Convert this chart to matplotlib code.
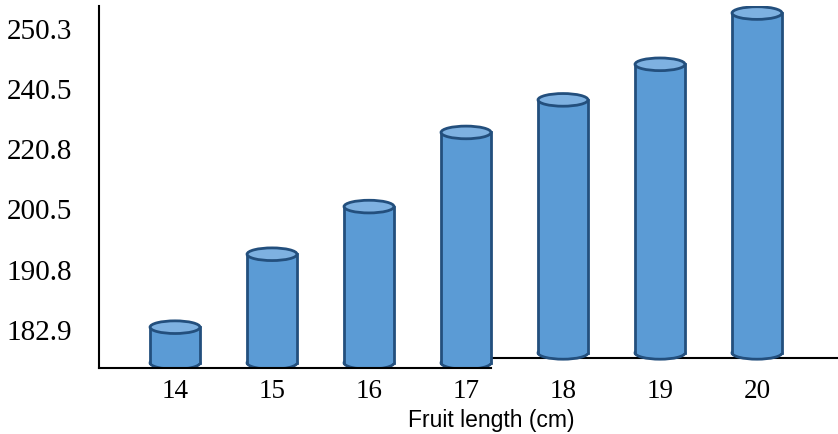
import matplotlib
matplotlib.use("Agg")
import matplotlib.pyplot as plt
from matplotlib.patches import Ellipse, Rectangle

# fruit length categories and bar heights (in y-tick steps)
lengths = ["14", "15", "16", "17", "18", "19", "20"]
bar_tops = [0.03, 1.24, 2.03, 3.26, 3.80, 4.39, 5.24]
bar_bases = [-0.647, -0.647, -0.647, -0.647, -0.481, -0.481, -0.481]
ytick_labels = ["182.9", "190.8", "200.5", "220.8", "240.5", "250.3"]

body_col = "#5b9bd5"
top_col = "#7eb1e1"
edge_col = "#234f7d"
bar_w = 0.515
ell_h = 0.21

fig = plt.figure(figsize=(8.38, 4.35), dpi=100)
ax = fig.add_axes([98.5 / 838, 66 / 435, (838 - 98.5) / 838, (369 - 7) / 435])

x = list(range(len(lengths)))
for xi, top, base in zip(x, bar_tops, bar_bases):
    bot = base + ell_h / 2 - 0.02
    ax.add_patch(Ellipse((xi, bot), bar_w, ell_h, facecolor=body_col,
                         edgecolor=edge_col, lw=2, zorder=2))
    ax.add_patch(Rectangle((xi - bar_w / 2, bot), bar_w, top - bot,
                           facecolor=body_col, edgecolor="none", zorder=3))
    ax.plot([xi - bar_w / 2] * 2, [bot, top], color=edge_col, lw=2, zorder=4)
    ax.plot([xi + bar_w / 2] * 2, [bot, top], color=edge_col, lw=2, zorder=4)
    ax.add_patch(Ellipse((xi, top), bar_w, ell_h, facecolor=top_col,
                         edgecolor=edge_col, lw=2, zorder=5))

xlim = (-0.789, 6.835)
ax.set_xlim(*xlim)
ax.set_ylim(-0.647, 5.357)

# broken baseline: the last three bars stand on a slightly higher line
split = 3 + bar_w / 2
ax.spines["bottom"].set_bounds(xlim[0], split)
ax.plot([split, xlim[1]], [bar_bases[-1]] * 2, color="black", lw=1.5,
        clip_on=False, zorder=1)

for side in ["top", "right"]:
    ax.spines[side].set_visible(False)
ax.spines["left"].set_linewidth(1.5)
ax.spines["bottom"].set_linewidth(1.5)

ax.set_xticks(x)
ax.set_xticklabels(lengths, fontfamily="Liberation Serif", fontsize=19.5)
ax.set_yticks(range(len(ytick_labels)))
ax.set_yticklabels(ytick_labels, fontfamily="Liberation Serif", fontsize=21)
ax.tick_params(axis="x", length=0, pad=7)
ax.tick_params(axis="y", length=0, pad=19)

fig.text(491 / 838, 1 - 421 / 435, "Fruit length (cm)", fontfamily="Liberation Sans",
         fontsize=16.5, ha="center", va="center")

fig.savefig("out.png", dpi=100)
